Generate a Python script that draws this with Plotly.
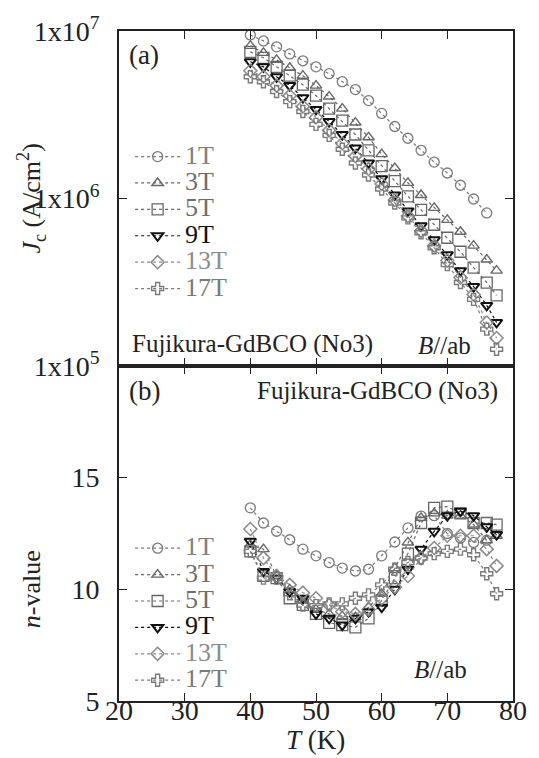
import plotly.graph_objects as go

# ---------------- data ----------------
T_1T = [40, 42, 44, 46, 48, 50, 52, 54, 56, 58, 60, 62, 64, 66, 68, 70, 72, 74, 76]
T_hi = [40, 42, 44, 46, 48, 50, 52, 54, 56, 58, 60, 62, 64, 66, 68, 70, 72, 74, 76, 77.5]

jc_1T = [9.47e6, 8.72e6, 8.04e6, 7.30e6, 6.64e6, 6.11e6, 5.56e6, 4.98e6, 4.47e6, 3.84e6,
         3.22e6, 2.69e6, 2.29e6, 1.94e6, 1.65e6, 1.42e6, 1.20e6, 9.93e5, 8.20e5]
jc_3T = [8.15e6, 7.40e6, 6.73e6, 6.03e6, 5.41e6, 4.72e6, 4.06e6, 3.44e6, 2.84e6, 2.32e6,
         1.84e6, 1.52e6, 1.24e6, 1.05e6, 8.79e5, 7.45e5, 6.33e5, 5.23e5, 4.32e5, 3.71e5]
jc_5T = [7.51e6, 6.92e6, 6.11e6, 5.41e6, 4.78e6, 4.11e6, 3.44e6, 2.92e6, 2.41e6, 1.94e6,
         1.56e6, 1.27e6, 1.03e6, 8.55e5, 6.97e5, 5.83e5, 4.81e5, 3.87e5, 3.15e5, 2.64e5]
jc_9T = [6.55e6, 6.11e6, 5.33e6, 4.72e6, 4.00e6, 3.40e6, 2.88e6, 2.41e6, 2.00e6, 1.63e6,
         1.31e6, 1.05e6, 8.43e5, 6.87e5, 5.67e5, 4.62e5, 3.71e5, 2.98e5, 2.30e5, 1.82e5]
jc_13T = [5.79e6, 5.33e6, 4.72e6, 4.11e6, 3.54e6, 3.05e6, 2.55e6, 2.13e6, 1.79e6, 1.50e6,
          1.22e6, 9.79e5, 7.87e5, 6.41e5, 5.23e5, 4.26e5, 3.38e5, 2.67e5, 1.82e5, 1.47e5]
jc_17T = [5.33e6, 4.98e6, 4.35e6, 3.79e6, 3.31e6, 2.77e6, 2.38e6, 1.97e6, 1.63e6, 1.38e6,
          1.14e6, 9.40e5, 7.66e5, 6.24e5, 5.08e5, 4.03e5, 3.15e5, 2.50e5, 1.66e5, 1.26e5]

n_1T = [13.65, 12.97, 12.6, 12.22, 11.8, 11.5, 11.2, 10.95, 10.82, 10.9,
        11.5, 12.12, 12.75, 13.28, 13.3, 12.5, 12.3, 12.1, 12.2]
n_3T = [12.0, 11.8, 10.6, 10.0, 9.5, 9.1, 8.9, 8.8, 8.75, 9.2,
        9.8, 10.95, 12.1, 13.2, 13.4, 13.3, 13.3, 12.9, 12.2, 12.4]
n_5T = [11.7, 10.6, 10.5, 9.6, 9.3, 8.9, 8.5, 8.4, 8.3, 8.7,
        9.5, 10.5, 11.6, 12.97, 13.65, 13.7, 13.4, 12.97, 12.97, 12.9]
n_9T = [12.15, 10.8, 10.5, 9.9, 9.6, 8.9, 8.7, 8.4, 8.7, 9.0,
        9.2, 10.0, 10.9, 11.8, 12.6, 13.3, 13.5, 13.3, 12.8, 12.45]
n_13T = [12.7, 11.4, 10.6, 10.2, 9.85, 9.6, 9.3, 9.0, 8.9, 9.1,
         9.6, 10.1, 10.6, 11.4, 11.85, 12.4, 12.4, 12.4, 11.8, 11.05]
n_17T = [11.7, 10.5, 10.5, 9.8, 9.3, 9.27, 9.35, 9.35, 9.6, 9.75,
         10.2, 10.9, 11.2, 11.4, 11.6, 11.7, 11.8, 11.55, 10.7, 9.8]

labels = ["1T", "3T", "5T", "9T", "13T", "17T"]
x_ticks = [20, 30, 40, 50, 60, 70, 80]
jc_ticks = [1e5, 1e6, 1e7]
jc_ticktext = ["1x10<sup>5</sup>", "1x10<sup>6</sup>", "1x10<sup>7</sup>"]
n_ticks = [5, 10, 15]

# ---------------- styling ----------------
FONT = "Liberation Serif, Times New Roman, serif"
W, H = 539, 758
L, R, TOP, BOT = 118.5, 13, 27, 57

series_style = [
    dict(symbol="circle-open", color="#7a7a7a", text="#808080", lw=1.3),
    dict(symbol="triangle-up-open", color="#666666", text="#6e6e6e", lw=1.4),
    dict(symbol="square-open", color="#666666", text="#6e6e6e", lw=1.3),
    dict(symbol="triangle-down-open", color="#111111", text="#111111", lw=2.0),
    dict(symbol="diamond-open", color="#8a8a8a", text="#8c8c8c", lw=1.5),
    dict(symbol="cross-open", color="#7a7a7a", text="#7a7a7a", lw=1.4),
]
msize = [10, 10, 11, 10, 10, 10]

Ts = [T_1T, T_hi, T_hi, T_hi, T_hi, T_hi]
jcs = [jc_1T, jc_3T, jc_5T, jc_9T, jc_13T, jc_17T]
ns = [n_1T, n_3T, n_5T, n_9T, n_13T, n_17T]

fig = go.Figure()
for panel, ys in (("a", jcs), ("b", ns)):
    for i, lab in enumerate(labels):
        st = series_style[i]
        nm = f"<span style='color:{st['text']};font-size:26px'>{lab}</span>"
        fig.add_trace(go.Scatter(
            x=Ts[i], y=ys[i], mode="lines+markers", name=nm,
            line=dict(color=st["color"], width=1.2, dash="dot"),
            marker=dict(symbol=st["symbol"], size=msize[i], color=st["color"],
                        line=dict(color=st["color"], width=st["lw"])),
            xaxis="x" if panel == "a" else "x2",
            yaxis="y" if panel == "a" else "y2",
            legend="legend" if panel == "a" else "legend2"))

def px(x):
    return (x - L) / (W - L - R)

def py(y):
    return 1 - (y - TOP) / (H - TOP - BOT)

axis_common = dict(showgrid=False, zeroline=False, showline=True, linecolor="#222222",
                   linewidth=1.6, mirror="ticks", ticks="inside", ticklen=8, tickwidth=1.4,
                   tickcolor="#222222",
                   tickfont=dict(family=FONT, size=28, color="#222222"))

fig.update_layout(
    width=W, height=H,
    margin=dict(l=L, r=R, t=TOP, b=BOT, pad=0),
    paper_bgcolor="white", plot_bgcolor="white",
    showlegend=True,
    xaxis=dict(domain=[0, 1], range=[20, 80], anchor="y", tickvals=x_ticks,
               showticklabels=False, **axis_common),
    yaxis=dict(domain=[0.5, 1], type="log", range=[5, 7], anchor="x",
               tickvals=jc_ticks, ticktext=jc_ticktext, ticklabelstandoff=12, **axis_common),
    xaxis2=dict(domain=[0, 1], range=[20, 80], anchor="y2", tickvals=x_ticks,
                ticklabelstandoff=-16, **axis_common),
    yaxis2=dict(domain=[0, 0.5], range=[5, 20], anchor="x2", tickvals=n_ticks,
                ticklabelstandoff=12, **axis_common),
    legend=dict(x=px(130), y=py(135), xanchor="left", yanchor="top",
                bgcolor="rgba(0,0,0,0)", itemwidth=45, tracegroupgap=0,
                font=dict(family=FONT, size=18, color="#777777")),
    legend2=dict(x=px(130), y=py(529), xanchor="left", yanchor="top",
                 bgcolor="rgba(0,0,0,0)", itemwidth=45, tracegroupgap=0,
                 font=dict(family=FONT, size=18, color="#777777")),
)

ann_font = dict(family=FONT, size=25, color="#222222")
annotations = [
    dict(text="(a)", x=px(127), y=py(51), xanchor="left", yanchor="middle", font=dict(family=FONT, size=27, color="#222222")),
    dict(text="Fujikura-GdBCO (No3)", x=px(130), y=py(342), xanchor="left", yanchor="middle", font=ann_font),
    dict(text="<i>B</i>//ab", x=px(426), y=py(343), xanchor="left", yanchor="middle", font=ann_font),
    dict(text="(b)", x=px(127), y=py(389), xanchor="left", yanchor="middle", font=dict(family=FONT, size=27, color="#222222")),
    dict(text="Fujikura-GdBCO (No3)", x=px(513), y=py(389), xanchor="right", yanchor="middle", font=ann_font),
    dict(text="<i>B</i>//ab", x=px(422), y=py(669), xanchor="left", yanchor="middle", font=ann_font),
    dict(text="<i>T</i> (K)", x=px(322), y=py(740), xanchor="center", yanchor="middle", font=dict(family=FONT, size=27, color="#222222")),
    dict(text="<i>J</i><sub>c</sub> (A/cm<sup>2</sup>)", x=px(28), y=py(195), xanchor="center", yanchor="middle",
         textangle=-90, font=dict(family=FONT, size=26, color="#222222")),
    dict(text="<i>n</i>-value", x=px(28), y=py(588), xanchor="center", yanchor="middle",
         textangle=-90, font=dict(family=FONT, size=26, color="#222222")),
]
for a in annotations:
    a.update(xref="paper", yref="paper", showarrow=False)
fig.update_layout(annotations=annotations)

fig.write_html("out.html")
